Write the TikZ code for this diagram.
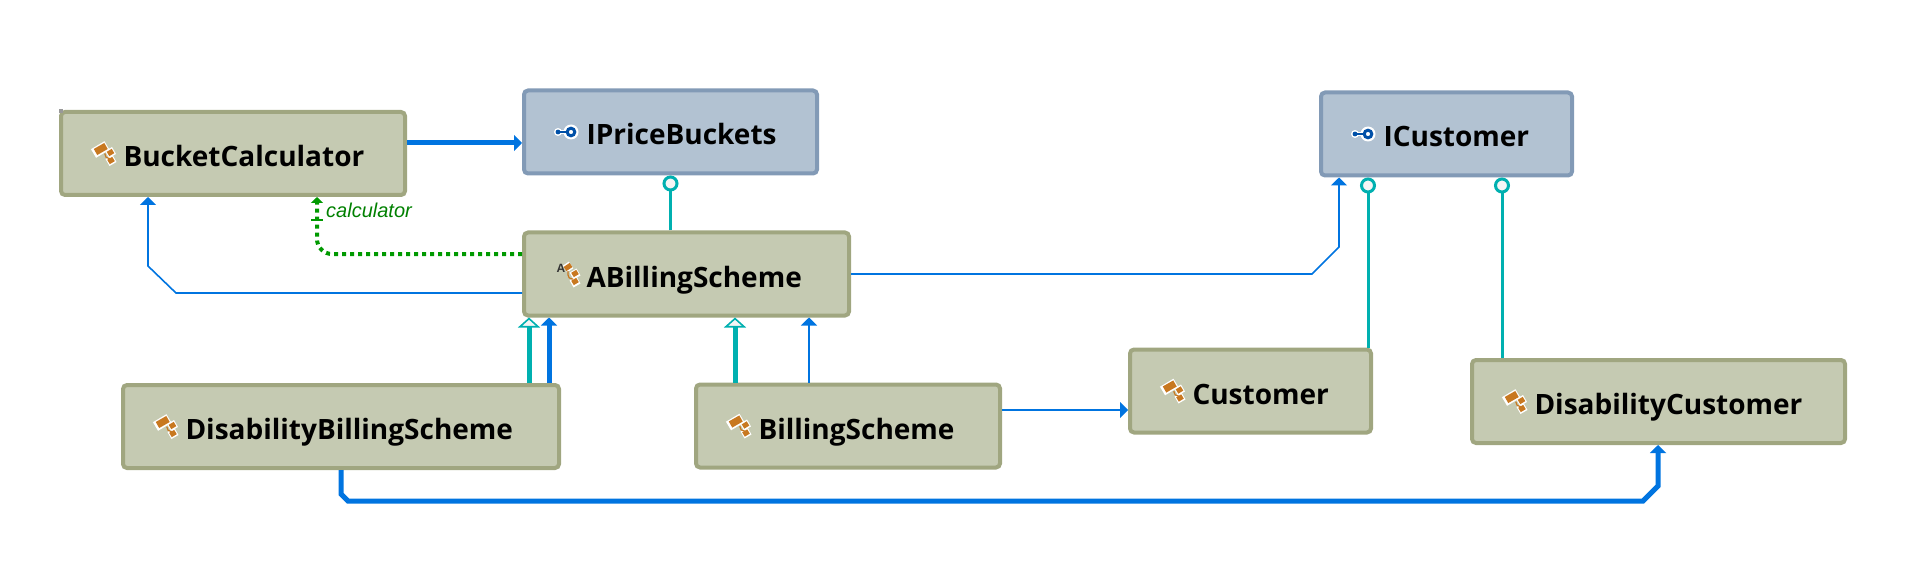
\documentclass[tikz,border=0pt]{standalone}
\usepackage{xcolor}
\usepackage{fontspec}
\setmainfont{Open Sans}
\newfontfamily\labelfont{Liberation Sans}
\usepackage{tikz}
\usetikzlibrary{positioning,calc,arrows.meta}
\definecolor{classbg}{RGB}{197,202,178}
\definecolor{classline}{RGB}{160,166,128}
\definecolor{ifacebg}{RGB}{178,194,210}
\definecolor{ifaceline}{RGB}{130,154,182}
\definecolor{linkblue}{RGB}{0,116,224}
\definecolor{implteal}{RGB}{0,176,176}
\definecolor{dotgreen}{RGB}{0,153,0}
\definecolor{labelgreen}{RGB}{0,128,0}
\definecolor{iconorange}{RGB}{200,120,32}
\definecolor{iconblue}{RGB}{0,80,168}
\definecolor{tipbg}{RGB}{245,245,245}
\newcommand{\classicon}{\tikz[x=1pt,y=-1pt,baseline=-13pt]{
    \useasboundingbox (-12,-12) rectangle (18.5,12);
    \draw[white, line width=10pt] (-11.5,0) -- (2,-8);
    \draw[white, line width=8pt] (2,1) -- (9,-3) (2.5,9) -- (9.5,5);
    \draw[iconorange, line width=7pt] (-9.5,-1.5) -- (1,-7.5);
    \draw[iconorange, line width=1.2pt] (0,0) -- (0,5) -- (5,5);
    \draw[iconorange, line width=5pt] (3,0.5) -- (8,-2.5) (3.5,8.5) -- (8.5,5.5);
}}
\newcommand{\abstracticon}{\tikz[x=1pt,y=-1pt,baseline=-13pt]{
    \useasboundingbox (-12,-12) rectangle (18.5,12);
    \draw[white, line width=8pt] (-3,-5) -- (3,-9);
    \draw[white, line width=8pt] (3.5,2) -- (10.5,-2) (3.5,10) -- (10.5,6);
    \draw[iconorange, line width=5pt] (-3,-5) -- (3,-9);
    \draw[iconorange, line width=1.2pt] (0,-3) -- (0,5) -- (5,5);
    \draw[iconorange, line width=5pt] (4.5,1) -- (9.5,-2) (4.5,9) -- (9.5,6);
    \node[inner sep=0pt, font=\labelfont\fontsize{12}{12}\selectfont, text=black!80] at (-7,-6) {A};
}}
\newcommand{\ifaceicon}{\tikz[x=1pt,y=-1pt,baseline=-13pt]{
    \useasboundingbox (-12,-12) rectangle (18.5,12);
    \draw[white, line width=3.5pt] (-10,0) -- (3,0);
    \fill[white] (-10,0) circle (4) (3,0) circle (7.5);
    \draw[iconblue, line width=1.6pt] (-10,0) -- (-1,0);
    \fill[iconblue] (-10,0) circle (2.4);
    \draw[iconblue, line width=3pt] (3,0) circle (3.8);
}}
\begin{document}
\begin{tikzpicture}[x=1pt, y=-1pt,
    classbox/.style={rectangle, rounded corners=4pt, draw=classline, fill=classbg, line width=4pt, inner xsep=32pt, inner ysep=0pt, minimum height=83pt, text width=#1, align=left, text height=26pt, text depth=0pt, font=\fontsize{28}{30}\selectfont\bfseries},
    ifacebox/.style={classbox=#1, draw=ifaceline, fill=ifacebg},
    thinlink/.style={-{Triangle[length=8pt,width=16pt]}, draw=linkblue, line width=1.6pt},
    thicklink/.style={-{Triangle[length=8pt,width=16pt]}, draw=linkblue, line width=5pt},
    inherit/.style={-{Triangle[open,length=10pt,width=22pt,line width=1.6pt,fill=tipbg]}, draw=implteal, line width=5pt},
    lollipop/.style={-{Circle[open,length=16pt,width=16pt,line width=3pt,fill=tipbg]}, draw=implteal, line width=3pt}
]
\useasboundingbox (0,0) rectangle (1906,588);

% Classes
\node[classbox=280] (bucket) at (233,153.5) {\classicon BucketCalculator};
\node[ifacebox=229] (pricebuckets) at (670.5,132) {\ifaceicon IPriceBuckets};
\node[classbox=261] (abilling) at (686.5,274) {\abstracticon ABillingScheme};
\node[classbox=372] (disabilitybilling) at (341,426.5) {\classicon DisabilityBillingScheme};
\node[classbox=240] (billing) at (848,426) {\classicon BillingScheme};
\node[ifacebox=187] (icustomer) at (1446.5,134) {\ifaceicon ICustomer};
\node[classbox=177] (customer) at (1250.5,391) {\classicon Customer};
\node[classbox=309] (disabilitycustomer) at (1658.5,401.5) {\classicon DisabilityCustomer};

\fill[gray!80] (59,109) rectangle (63,113);

% Links
\draw[thicklink] (bucket.east |- 0,143) -- (pricebuckets.west |- 0,143);
\draw[thinlink] (abilling.west |- 0,293) -- (176,293) -- (148,266) -- (bucket.south -| 148,0);
\draw[thinlink] (abilling.east) -- (1312,274) -- (1339,247) -- (icustomer.south -| 1339,0);
\draw[lollipop] (abilling.north -| pricebuckets.south) -- (pricebuckets.south);
\draw[lollipop] (customer.north -| 1368,0) -- (icustomer.south -| 1368,0);
\draw[lollipop] (disabilitycustomer.north -| 1502,0) -- (icustomer.south -| 1502,0);
\draw[inherit] (disabilitybilling.north -| 529,0) -- (abilling.south -| 529,0);
\draw[thicklink] (disabilitybilling.north -| 549,0) -- (abilling.south -| 549,0);
\draw[inherit] (billing.north -| 735,0) -- (abilling.south -| 735,0);
\draw[thinlink] (billing.north -| 809,0) -- (abilling.south -| 809,0);
\draw[thinlink] (billing.east |- 0,410) -- (customer.west |- 0,410);
\draw[thicklink] (disabilitybilling.south -| 341,0) -- (341,494) -- (348,501) -- (1643,501) -- (1658,486) -- (disabilitycustomer.south -| 1658,0);

% Dotted field link
\coordinate (fieldbar) at (317,220);
\draw[draw=dotgreen, line width=4pt, dash pattern=on 4pt off 4pt, rounded corners=15pt, -{Triangle[length=6pt,width=12pt,sep=0pt]}] (abilling.west |- 0,254) -- (317,254) -- (bucket.south -| 317,0);
\draw[draw=dotgreen, line width=2pt] ($(fieldbar)+(-6,0)$) -- ($(fieldbar)+(6,0)$);
\node[inner sep=0pt, anchor=west, text=labelgreen, font=\labelfont\itshape\fontsize{20}{22}\selectfont] (calculator) at (326,210) {calculator};

\end{tikzpicture}
\end{document}
